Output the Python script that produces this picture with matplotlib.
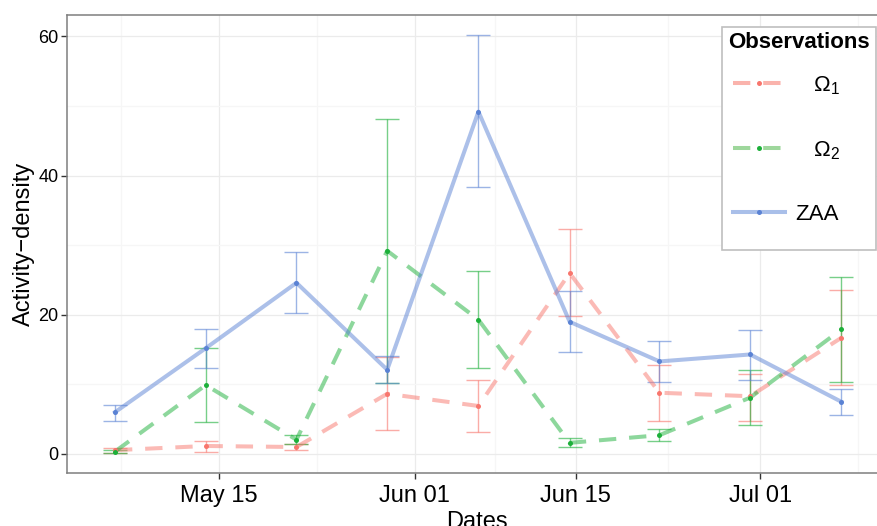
import matplotlib
matplotlib.use("Agg")
import matplotlib.pyplot as plt
import matplotlib.dates as mdates
from matplotlib.lines import Line2D
from matplotlib.patches import Rectangle
import numpy as np
import pandas as pd

plt.rcParams['font.family'] = ['Liberation Sans', 'DejaVu Sans']
plt.rcParams['mathtext.fontset'] = 'custom'
plt.rcParams['mathtext.rm'] = 'Liberation Sans'
plt.rcParams['mathtext.it'] = 'Liberation Sans:italic'

# sampling dates (roughly every 7.9 days)
dates = ["2013-05-06 00:00", "2013-05-13 21:00", "2013-05-21 18:00",
         "2013-05-29 15:00", "2013-06-06 13:00", "2013-06-14 11:00",
         "2013-06-22 06:00", "2013-06-30 03:00", "2013-07-08 01:00"]

omega1 = [0.55, 1.15, 1.0, 8.65, 6.9, 26.0, 8.8, 8.3, 16.7]
omega1_lo = [0.2, 0.35, 0.6, 3.4, 3.1, 19.8, 4.7, 4.8, 9.9]
omega1_hi = [0.9, 1.8, 1.4, 13.9, 10.6, 32.3, 12.8, 11.5, 23.5]

omega2 = [0.35, 9.9, 2.05, 29.2, 19.3, 1.6, 2.7, 8.1, 17.9]
omega2_lo = [0.1, 4.6, 1.4, 10.2, 12.4, 1.0, 1.9, 4.2, 10.3]
omega2_hi = [0.6, 15.3, 2.7, 48.2, 26.3, 2.3, 3.6, 12.0, 25.5]

zaa = [6.0, 15.2, 24.6, 12.1, 49.2, 19.0, 13.3, 14.3, 7.5]
zaa_lo = [4.8, 12.3, 20.3, 10.2, 38.4, 14.6, 10.4, 10.7, 5.6]
zaa_hi = [7.1, 18.0, 29.0, 14.1, 60.2, 23.4, 16.2, 17.8, 9.3]

labels = ["   $\\Omega_1$", "   $\\Omega_2$", "ZAA"]
major_dates = ["2013-05-15 00:00", "2013-06-01 00:00", "2013-06-15 00:00",
               "2013-07-01 00:00"]
minor_dates = ["2013-05-06 12:00", "2013-05-23 12:00", "2013-06-08 00:00",
               "2013-06-23 00:00", "2013-07-09 12:00"]

x = pd.to_datetime(dates)

fig = plt.figure(figsize=(8.77, 5.26), dpi=100)
ax = fig.add_axes([0.0761, 0.1008, 0.9353, 0.8713])

# point colour, line colour (light, for legend), dash style
styles = [("#F8766D", "#FAB3AC", (0, (4.3, 3.2))),
          ("#1DB03A", "#9ED79C", (0, (4.3, 3.2))),
          ("#5A82D4", "#A9BFE9", "-")]
series = [(omega1, omega1_lo, omega1_hi),
          (omega2, omega2_lo, omega2_hi),
          (zaa, zaa_lo, zaa_hi)]

handles = []
for (vals, lo, hi), (col, light, ls) in zip(series, styles):
    v = np.array(vals)
    yerr = [v - np.array(lo), np.array(hi) - v]
    ax.errorbar(x, v, yerr=yerr, fmt='none', ecolor=col, elinewidth=1.0,
                capsize=8.5, capthick=1.0, alpha=0.6, zorder=2)
    ax.plot(x, v, color=col, lw=2.9, ls=ls, alpha=0.5, zorder=3)
    ax.plot(x, v, 'o', color=col, ms=3.6, mec='none', zorder=4)
    handles.append(Line2D([], [], color=light, lw=2.9, ls=ls, marker='o',
                          mfc=col, mec='none', ms=3.6))

# axes limits / ticks
ax.set_xlim(mdates.date2num(pd.Timestamp("2013-05-01 19:30")),
            mdates.date2num(pd.Timestamp("2013-07-12 00:00")))
ax.set_ylim(-2.73, 63.13)
ax.set_xticks(pd.to_datetime(major_dates))
ax.set_xticks(pd.to_datetime(minor_dates), minor=True)
ax.xaxis.set_major_formatter(mdates.DateFormatter("%b %d"))
ax.set_yticks([0, 20, 40, 60])
ax.set_yticks([10, 30, 50], minor=True)

ax.grid(which='major', color='#EBEBEB', lw=0.9)
ax.grid(which='minor', color='#F6F6F6', lw=0.9)
ax.set_axisbelow(True)

for s in ax.spines.values():
    s.set_color('#7F7F7F')
    s.set_linewidth(1.1)

ax.tick_params(axis='x', which='major', labelsize=17, length=4, width=1,
               color='#333333', pad=4.5)
ax.tick_params(axis='y', which='major', labelsize=13, length=4, width=1,
               color='#333333', pad=2)
ax.tick_params(which='minor', length=0)

ax.set_xlabel("Dates", fontsize=17, labelpad=3)
ax.set_ylabel("Activity\u2212density", fontsize=17, labelpad=2)

# legend box drawn separately (ggplot style padding)
frame = Rectangle((0.8233, 0.5247), 0.1755, 0.424, transform=fig.transFigure,
                  facecolor='white', edgecolor='#BFBFBF', lw=1.2, zorder=5)
fig.patches.append(frame)
fig.text(0.830, 1 - 42 / 526, "Observations", ha='left', va='center',
         fontsize=16, fontweight='bold', zorder=6)

leg = fig.legend(handles, labels, loc='upper left',
                 bbox_to_anchor=(0.836, 0.859),
                 fontsize=16, frameon=False, labelspacing=1.9,
                 handlelength=2.35, handletextpad=0.45, borderpad=0.0,
                 borderaxespad=0)
leg.set_zorder(6)

fig.savefig("out.png", dpi=100)
